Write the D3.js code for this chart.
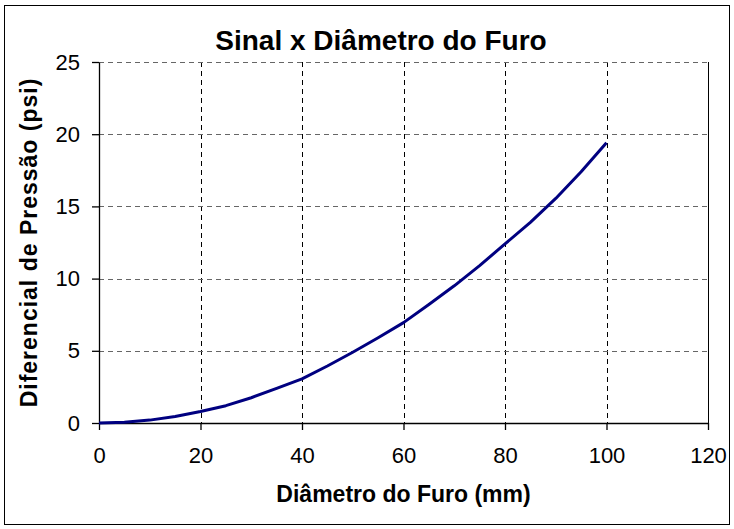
<!DOCTYPE html>
<html>
<head>
<meta charset="utf-8">
<script src="https://cdn.jsdelivr.net/npm/d3@7"></script>
<style>
  body { margin: 0; background: #fff; }
  svg text { font-family: "Liberation Sans", Arial, sans-serif; fill: #000; }
</style>
</head>
<body>
<div id="chart"></div>
<script>
// data
var diametro = [0, 5, 10, 15, 20, 25, 30, 35, 40, 45, 50, 55, 60, 65, 70, 75, 80, 85, 90, 95, 100];
var pressao = [0, 0.05, 0.2, 0.45, 0.8, 1.2, 1.75, 2.4, 3.05, 3.95, 4.9, 5.9, 6.95, 8.2, 9.5, 10.9, 12.4, 13.9, 15.55, 17.4, 19.4];
var xTicks = [0, 20, 40, 60, 80, 100, 120];
var yTicks = [0, 5, 10, 15, 20, 25];

var W = 734, H = 529;
var margin = { top: 62, right: 26, bottom: 106, left: 99 };
var width = W - margin.left - margin.right,
    height = H - margin.top - margin.bottom;

var svg = d3.select("#chart").append("svg")
    .attr("width", W)
    .attr("height", H);

// chart area border
svg.append("rect")
    .attr("x", 4.5).attr("y", 5.5)
    .attr("width", 725).attr("height", 519)
    .attr("fill", "none")
    .attr("stroke", "#000")
    .attr("stroke-width", 1);

var g = svg.append("g")
    .attr("transform", "translate(" + margin.left + "," + margin.top + ")");

var x = d3.scaleLinear().domain([0, 120]).range([0, width]);
var y = d3.scaleLinear().domain([0, 25]).range([height, 0]);

// gridlines
g.selectAll(".vgrid")
    .data(xTicks.slice(1, -1))
    .enter().append("line")
    .attr("class", "vgrid")
    .attr("x1", function(d){ return Math.round(x(d)) + 0.5; })
    .attr("x2", function(d){ return Math.round(x(d)) + 0.5; })
    .attr("y1", 0).attr("y2", height)
    .attr("stroke", "#000")
    .attr("stroke-dasharray", "5,4");

g.selectAll(".hgrid")
    .data(yTicks.slice(1))
    .enter().append("line")
    .attr("class", "hgrid")
    .attr("x1", 0).attr("x2", width)
    .attr("y1", function(d){ return Math.round(y(d)) + 0.5; })
    .attr("y2", function(d){ return Math.round(y(d)) + 0.5; })
    .attr("stroke", "#666")
    .attr("stroke-dasharray", "5,4");

// plot area frame (right side)
g.append("line")
    .attr("x1", width + 0.5).attr("x2", width + 0.5)
    .attr("y1", 0).attr("y2", height)
    .attr("stroke", "#000");

// axes
var xAxis = d3.axisBottom(x).tickValues(xTicks).tickSize(7).tickSizeOuter(0).tickPadding(17);
var yAxis = d3.axisLeft(y).tickValues(yTicks).tickSize(7).tickSizeOuter(0).tickPadding(12);

g.append("g")
    .attr("class", "x-axis")
    .attr("transform", "translate(0," + height + ")")
    .call(xAxis);

g.append("g")
    .attr("class", "y-axis")
    .call(yAxis);

g.selectAll(".x-axis path, .y-axis path, .tick line")
    .attr("stroke", "#000")
    .attr("stroke-width", 1.3);

g.selectAll(".tick text")
    .style("font-size", "22px")
    .attr("fill", "#000");

// the line
var line = d3.line()
    .x(function(d, i){ return x(diametro[i]); })
    .y(function(d){ return y(d); });

g.append("path")
    .datum(pressao)
    .attr("d", line)
    .attr("fill", "none")
    .attr("stroke", "#000080")
    .attr("stroke-width", 3)
    .attr("stroke-linejoin", "round");

// titles
svg.append("text")
    .attr("x", 381)
    .attr("y", 50)
    .attr("text-anchor", "middle")
    .style("font-size", "28px")
    .style("font-weight", "bold")
    .text("Sinal x Diâmetro do Furo");

svg.append("text")
    .attr("x", margin.left + width / 2)
    .attr("y", 502)
    .attr("text-anchor", "middle")
    .style("font-size", "23px")
    .style("font-weight", "bold")
    .text("Diâmetro do Furo (mm)");

svg.append("text")
    .attr("transform", "translate(37," + (margin.top + height / 2) + ") rotate(-90)")
    .attr("text-anchor", "middle")
    .style("font-size", "23px")
    .style("font-weight", "bold")
    .style("letter-spacing", "1px")
    .text("Diferencial de Pressão (psi)");
</script>
</body>
</html>
